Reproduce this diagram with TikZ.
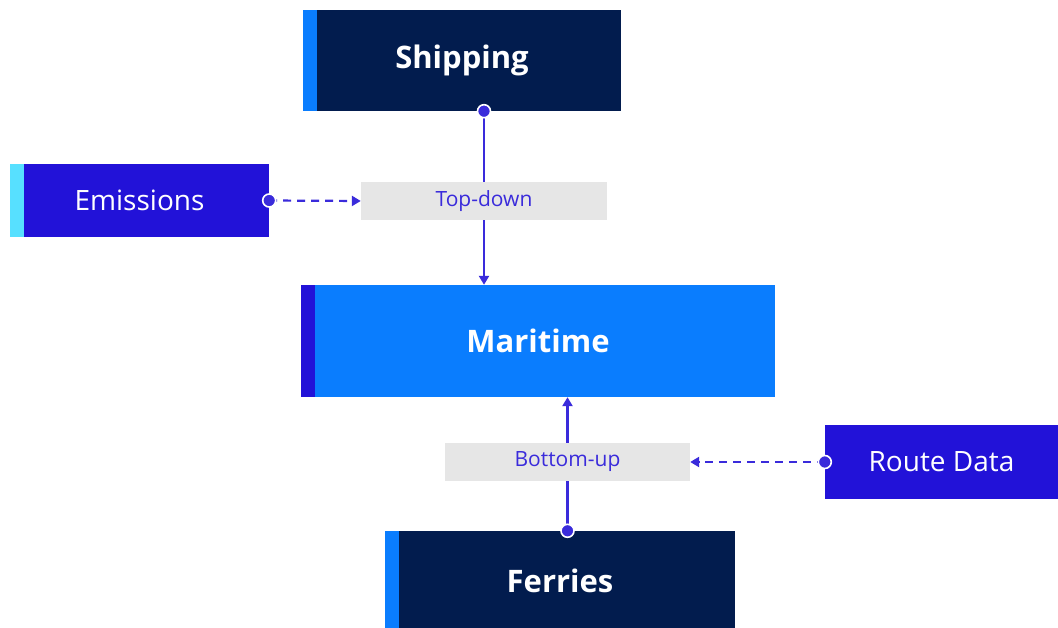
\documentclass[tikz,border=0pt]{standalone}
\usepackage{fontspec}
\setmainfont{Open Sans}
\usetikzlibrary{arrows.meta}
\definecolor{navy}{HTML}{021C4E}
\definecolor{bblue}{HTML}{0A7DFE}
\definecolor{indigo}{HTML}{2212D8}
\definecolor{cyanst}{HTML}{57E0FF}
\definecolor{lblgray}{HTML}{E6E6E6}
\definecolor{linec}{HTML}{3A2BDB}
\tikzset{
  box/.style={rectangle, inner sep=0pt, text=white, anchor=center},
  stripe/.style={path picture={\fill[#1] (path picture bounding box.south west) rectangle ([xshift=14pt]path picture bounding box.north west);}},
  bigtxt/.style={font=\fontsize{31}{36}\selectfont\bfseries},
  midtxt/.style={font=\fontsize{28}{32}\selectfont},
  lbl/.style={rectangle, fill=lblgray, text=linec, inner sep=0pt, minimum width=246pt, minimum height=38pt, font=\fontsize{21}{24}\selectfont},
  conn/.style={draw=linec, line width=2.2pt},
  tip/.style={-{Triangle[length=9pt,width=10pt]}},
  dashc/.style={conn, dash pattern=on 8pt off 6pt},
  dot/.style={fill=linec, draw=white, line width=1.6pt}
}
\begin{document}
\begin{tikzpicture}[x=1pt,y=-1pt]
\useasboundingbox[fill=white] (0,0) rectangle (1058,628);
\node[box, bigtxt, fill=navy, stripe=bblue, minimum width=318pt, minimum height=101pt] (ship) at (462,60.5) {Shipping};
\node[box, midtxt, fill=indigo, stripe=cyanst, minimum width=259pt, minimum height=73pt] (emi) at (139.5,200.5) {Emissions};
\node[lbl] (td) at (484,201) {Top-down};
\node[box, bigtxt, fill=bblue, stripe=indigo, minimum width=474pt, minimum height=112pt] (mar) at (538,341) {Maritime};
\node[lbl, minimum width=245pt] (bu) at (567.5,462) {Bottom-up};
\node[box, midtxt, fill=indigo, minimum width=233pt, minimum height=74pt] (route) at (941.5,462) {Route Data};
\node[box, bigtxt, fill=navy, stripe=bblue, minimum width=350pt, minimum height=100pt] (fer) at (560,581) {Ferries};
% connectors
\draw[conn] (ship.south -| td.north) -- (td.north);
\draw[conn, tip] (td.south) -- (mar.north -| td.south);
\draw[conn] (fer.north -| bu.south) -- (bu.south);
\draw[conn, tip] (bu.north) -- (mar.south -| bu.north);
\draw[dashc, tip] (emi.east) -- (td.west);
\draw[dashc, tip] (route.west) -- (bu.east);
% dots
\fill[dot] (ship.south -| td.north) circle (6.5pt);
\fill[dot] (fer.north -| bu.south) circle (6.5pt);
\fill[dot] (emi.east) circle (6.5pt);
\fill[dot] (route.west) circle (6.5pt);
\end{tikzpicture}
\end{document}
